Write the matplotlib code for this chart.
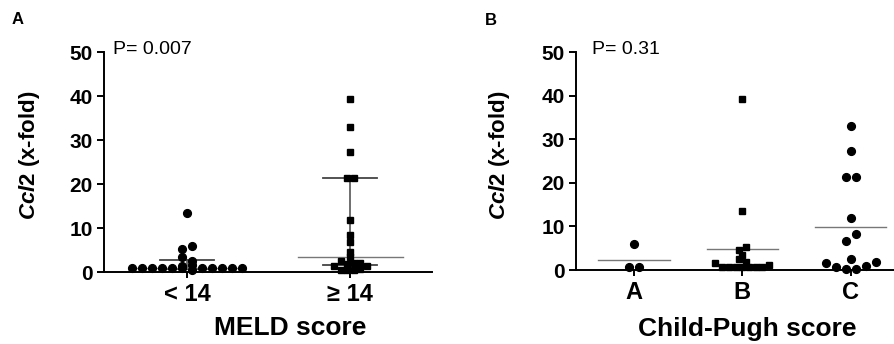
import matplotlib
matplotlib.use('Agg')
import matplotlib.pyplot as plt
import numpy as np

plt.rcParams['font.family'] = ['Liberation Sans', 'DejaVu Sans']
plt.rcParams['mathtext.fontset'] = 'custom'
plt.rcParams['mathtext.it'] = 'Liberation Sans:italic:bold'
plt.rcParams['mathtext.rm'] = 'Liberation Sans:bold'

# panel A: MELD score
meld_cats = ['< 14', '\u2265 14']
meld_low = [0.8, 0.8, 0.8, 0.8, 0.8, 0.8, 0.5, 0.8, 0.8, 0.8, 0.8, 0.8,
            1.4, 1.5, 3.3, 2.6, 5.3, 6.0, 13.5]
meld_high = [1.4, 0.4, 0.5, 0.5, 0.6, 1.4, 2.5, 1.8, 2.0, 2.1, 3.3, 4.6,
             6.9, 8.4, 11.8, 21.3, 21.3, 27.2, 32.9, 39.3]
meld_median = [0.9, 3.5]
meld_q1 = [0.7, 1.5]
meld_q3 = [2.7, 21.3]
meld_p = 'P= 0.007'

# panel B: Child-Pugh score
cp_cats = ['A', 'B', 'C']
cp_a = [0.6, 0.6, 5.9]
cp_b = [1.7, 0.75, 0.75, 0.75, 0.75, 0.75, 0.75, 0.75, 1.2, 2.5, 1.9, 3.4,
        4.7, 5.2, 13.5, 39.3]
cp_c = [1.6, 0.6, 0.3, 0.3, 0.9, 1.8, 2.5, 6.7, 8.3, 11.9, 21.3, 21.3,
        27.4, 33.1]
cp_p = 'P= 0.31'


def swarm(vals, step, spread):
    # group points with close values into rows, spread each row around 0
    vals = np.asarray(vals, float)
    order = np.argsort(vals, kind='stable')
    offs = np.zeros(len(vals))
    groups, cur = [], [order[0]]
    for i in order[1:]:
        if vals[i] - vals[cur[0]] <= step + 1e-9:
            cur.append(i)
        else:
            groups.append(cur)
            cur = [i]
    groups.append(cur)
    for g in groups:
        g = sorted(g)
        n = len(g)
        for k, i in enumerate(g):
            offs[i] = (k - (n - 1) / 2) * spread
    return offs


def style(ax, cats, xlim, ylabel, xlabel, lab_xy, xl_xy):
    ax.set_xlim(*xlim)
    ax.set_ylim(0, 50)
    ax.set_xticks(range(len(cats)))
    ax.set_xticklabels(cats, fontsize=17, fontweight='bold')
    ax.set_yticks([0, 10, 20, 30, 40, 50])
    ax.set_yticklabels(['0', '10', '20', '30', '40', '50'], fontsize=15, fontweight='bold')
    for s in ['top', 'right']:
        ax.spines[s].set_visible(False)
    for s in ['left', 'bottom']:
        ax.spines[s].set_linewidth(1.4)
    ax.tick_params(axis='y', length=5, width=1.4, pad=3)
    ax.tick_params(axis='x', length=4, width=1.4, pad=4)
    ax.set_ylabel(ylabel, fontsize=16, fontweight='bold')
    ax.yaxis.set_label_coords(*lab_xy)
    ax.set_xlabel(xlabel, fontsize=19, fontweight='bold')
    ax.xaxis.set_label_coords(*xl_xy)


fig = plt.figure(figsize=(8.94, 3.44), dpi=100)
axA = fig.add_axes([104 / 894, 72 / 344, 328 / 894, 220 / 344])
axB = fig.add_axes([576 / 894, 74 / 344, 318 / 894, 218 / 344])

ylab = r'$\mathit{Ccl2}$ (x-fold)'

# panel A
for i, (vals, mk, ms, step, sp) in enumerate([(meld_low, 'o', 5.6, 0.8, 0.061),
                                               (meld_high, 's', 3.8, 1.0, 0.040)]):
    xs = i + swarm(vals, step, sp)
    axA.plot(xs, vals, ls='none', marker=mk, ms=ms, color='black', clip_on=False, zorder=3)
    axA.plot([i, i], [meld_q1[i], meld_q3[i]], color='#555555', lw=1.2, zorder=2)
    for q in (meld_q1[i], meld_q3[i]):
        axA.plot([i - 0.165, i + 0.165], [q, q], color='#444444', lw=1.3, zorder=2)
    axA.plot([i - 0.32, i + 0.32], [meld_median[i]] * 2, color='#777777', lw=1.0, zorder=2)
style(axA, meld_cats, (-0.51, 1.5), ylab, 'MELD score', (-0.19, 0.532), (0.567, -0.2))
axA.text(0.027, 1.01, meld_p, transform=axA.transAxes, fontsize=14, va='center', ha='left')

# panel B
for i, (vals, mk, ms, step, sp) in enumerate([(cp_a, 'o', 5.6, 1.6, 0.092),
                                               (cp_b, 's', 3.8, 1.0, 0.062),
                                               (cp_c, 'o', 5.6, 1.6, 0.092)]):
    xs = i + swarm(vals, step, sp)
    axB.plot(xs, vals, ls='none', marker=mk, ms=ms, color='black', clip_on=False, zorder=3)
    m = np.mean(vals)
    axB.plot([i - 0.33, i + 0.33], [m, m], color='#777777', lw=1.0, zorder=2)
style(axB, cp_cats, (-0.535, 2.4), ylab, 'Child-Pugh score', (-0.201, 0.528), (0.538, -0.216))
axB.text(0.05, 1.01, cp_p, transform=axB.transAxes, fontsize=14, va='center', ha='left')

fig.text(12 / 894, 1 - 24 / 344, 'A', fontsize=12, fontweight='bold', va='baseline')
fig.text(485 / 894, 1 - 25 / 344, 'B', fontsize=12, fontweight='bold', va='baseline')

fig.savefig('out.png', dpi=100)
